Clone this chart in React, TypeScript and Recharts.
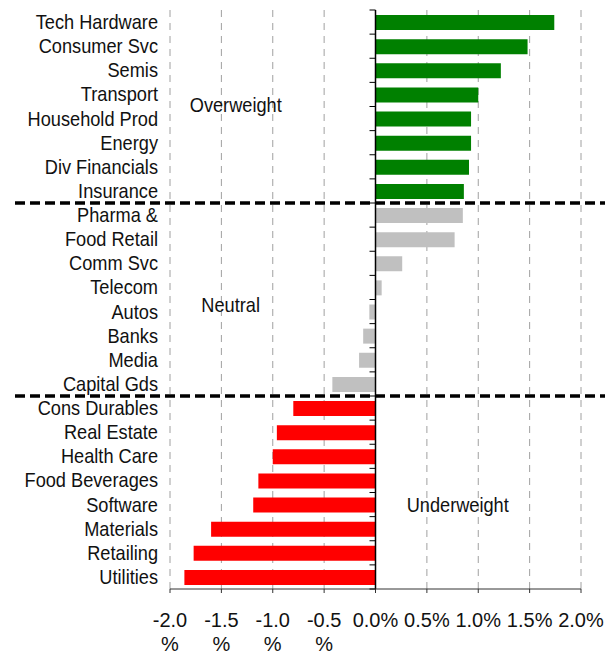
import { Bar, BarChart, CartesianGrid, Cell, ReferenceDot, ReferenceLine, XAxis, YAxis } from "recharts";

// sector tilts, % vs benchmark
const OVER_NAMES = ["Tech Hardware", "Consumer Svc", "Semis", "Transport", "Household Prod", "Energy", "Div Financials", "Insurance"];
const OVER_VALUES = [1.74, 1.48, 1.22, 1.0, 0.93, 0.93, 0.91, 0.86];
const NEUTRAL_NAMES = ["Pharma &", "Food Retail", "Comm Svc", "Telecom", "Autos", "Banks", "Media", "Capital Gds"];
const NEUTRAL_VALUES = [0.85, 0.77, 0.26, 0.06, -0.06, -0.12, -0.16, -0.42];
const UNDER_NAMES = ["Cons Durables", "Real Estate", "Health Care", "Food Beverages", "Software", "Materials", "Retailing", "Utilities"];
const UNDER_VALUES = [-0.8, -0.96, -1.0, -1.14, -1.19, -1.6, -1.77, -1.86];
const X_TICKS = [-2.0, -1.5, -1.0, -0.5, 0.0, 0.5, 1.0, 1.5, 2.0];

const GREEN = "#008000";
const RED = "#ff0000";
const GREY = "#c0c0c0";
const FONT = "'Liberation Sans Narrow', 'Arial Narrow', 'Liberation Sans', sans-serif";
const FS = 20;
const SQUEEZE = 0.91; // no narrow face installed, squeeze the regular one

const W = 605;
const H = 654;
const M = { top: 10, right: 24, bottom: 0, left: 0 };
const Y_W = 170;
const X_H = 65;
const X_MIN = -2;
const X_MAX = 2;
const PLOT_W = W - M.left - M.right - Y_W;
const PLOT_H = H - M.top - M.bottom - X_H;

const data = [
  ...OVER_NAMES.map((name, i) => ({ name, value: OVER_VALUES[i], color: GREEN })),
  ...NEUTRAL_NAMES.map((name, i) => ({ name, value: NEUTRAL_VALUES[i], color: GREY })),
  ...UNDER_NAMES.map((name, i) => ({ name, value: UNDER_VALUES[i], color: RED })),
];

const BAND = PLOT_H / data.length;
const ZERO_X = M.left + Y_W + ((0 - X_MIN) / (X_MAX - X_MIN)) * PLOT_W;
const SPLITS = [OVER_NAMES.length - 1, OVER_NAMES.length + NEUTRAL_NAMES.length - 1];

function NarrowText({ x, y, anchor, children }: any) {
  return (
    <text
      transform={`translate(${x},${y}) scale(${SQUEEZE},1)`}
      textAnchor={anchor}
      fontFamily={FONT}
      fontSize={FS}
      fill="#111"
    >
      {children}
    </text>
  );
}

function CategoryTick({ x, y, payload, index }: any) {
  const last = index === data.length - 1;
  return (
    <g>
      <NarrowText x={x} y={y + 7} anchor="end">
        {payload.value}
      </NarrowText>
      <line x1={ZERO_X - 6} x2={ZERO_X} y1={y - BAND / 2} y2={y - BAND / 2} stroke="#000" />
      {last && <line x1={ZERO_X - 6} x2={ZERO_X} y1={y + BAND / 2} y2={y + BAND / 2} stroke="#000" />}
      {SPLITS.includes(index) && (
        <line x1={15} x2={W} y1={y + BAND / 2} y2={y + BAND / 2} stroke="#000" strokeWidth={3.5} strokeDasharray="10 5" />
      )}
    </g>
  );
}

function PctTick({ x, y, payload }: any) {
  const v: number = payload.value;
  const s = v.toFixed(1);
  if (v < 0) {
    return (
      <g fontFamily={FONT} fontSize={FS} fill="#111" textAnchor="middle">
        <text x={x} y={y + 32}>{s}</text>
        <text x={x} y={y + 56}>%</text>
      </g>
    );
  }
  return (
    <text x={x} y={y + 32} fontFamily={FONT} fontSize={FS} fill="#111" textAnchor="middle">
      {s}%
    </text>
  );
}

const groupLabel = (text: string, dy: number) => (props: any) => {
  const { x, y } = props.viewBox;
  return (
    <NarrowText x={x} y={y + dy} anchor="middle">
      {text}
    </NarrowText>
  );
};

export default function App() {
  return (
    <div style={{ position: "absolute", left: 0, top: 0, width: W, height: H, background: "#fff" }}>
      <BarChart width={W} height={H} data={data} layout="vertical" margin={M}>
        <CartesianGrid horizontal={false} stroke="#a0a0a0" strokeDasharray="7 6" />
        <XAxis
          type="number"
          domain={[X_MIN, X_MAX]}
          ticks={X_TICKS}
          height={X_H}
          tick={<PctTick />}
          tickSize={4}
          tickMargin={2}
          stroke="#333"
          interval={0}
        />
        <YAxis
          type="category"
          dataKey="name"
          width={Y_W}
          axisLine={false}
          tickLine={false}
          tickMargin={6}
          interval={0}
          tick={<CategoryTick />}
        />
        <ReferenceLine x={0} stroke="#000" strokeWidth={1.5} />
        <Bar dataKey="value" barSize={15} isAnimationActive={false}>
          {data.map((d, i) => (
            <Cell key={i} fill={d.color} />
          ))}
        </Bar>
        <ReferenceDot x={-1.36} y="Transport" r={0} fill="none" stroke="none" label={groupLabel("Overweight", 18)} />
        <ReferenceDot x={-1.41} y="Autos" r={0} fill="none" stroke="none" label={groupLabel("Neutral", 0)} />
        <ReferenceDot x={0.8} y="Software" r={0} fill="none" stroke="none" label={groupLabel("Underweight", 7)} />
      </BarChart>
    </div>
  );
}
